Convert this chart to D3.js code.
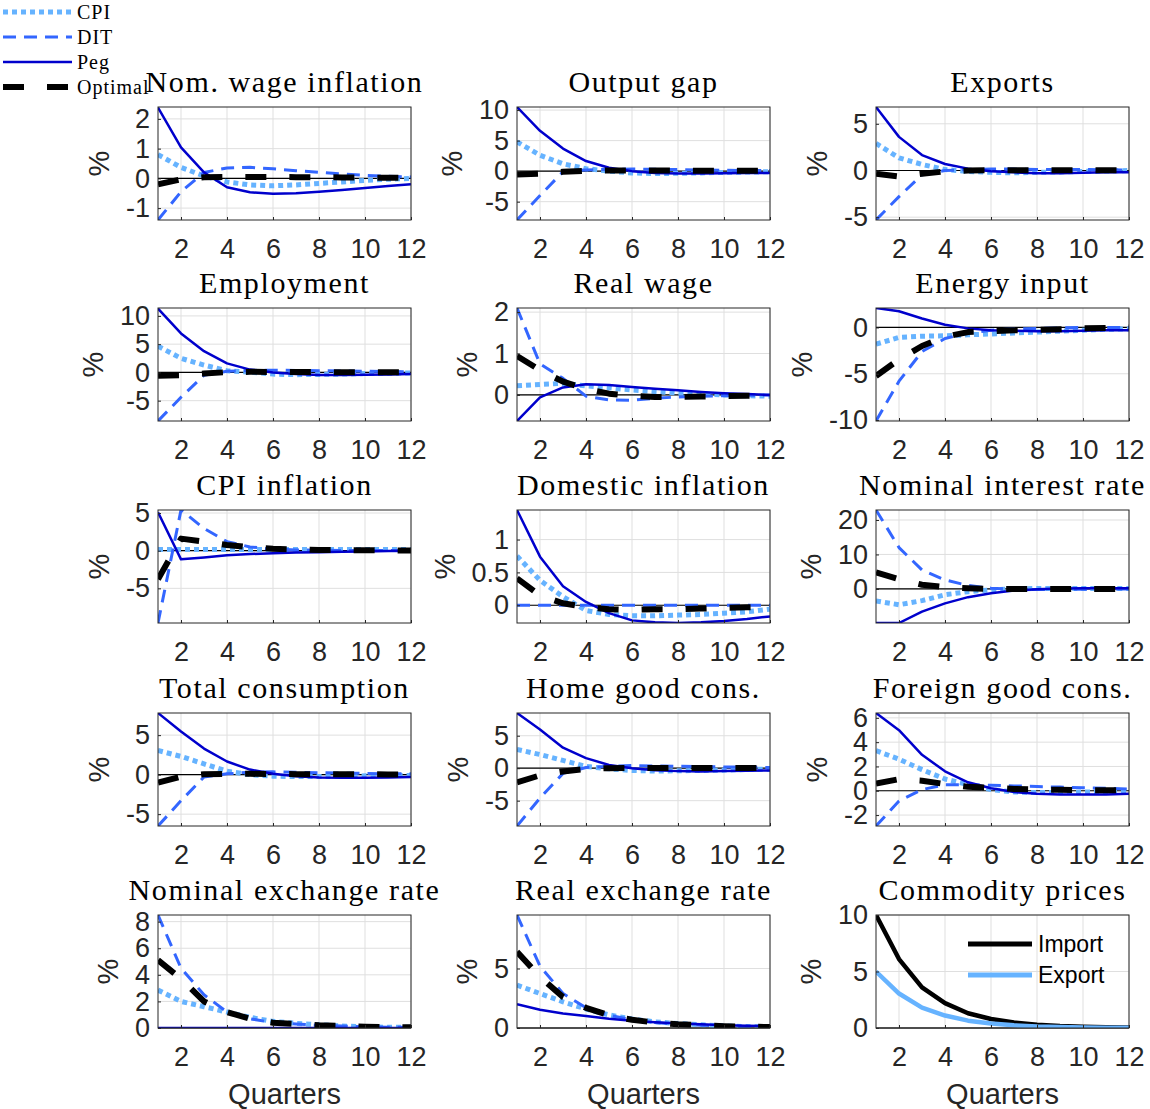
<!DOCTYPE html>
<html><head><meta charset="utf-8">
<script src="https://cdn.jsdelivr.net/npm/d3@7"></script>
<style>body{margin:0;background:#fff}</style></head>
<body>
<svg id="c" width="1150" height="1109"></svg>
<script>
// ---------------- DATA ----------------
const quarters = [1,2,3,4,5,6,7,8,9,10,11,12];
const xTicks = [2,4,6,8,10,12];
const seriesNames = ["CPI","DIT","Peg","Optimal"];
const panelTitles = ["Nom.  wage inflation","Output gap","Exports",
  "Employment","Real wage","Energy input",
  "CPI inflation","Domestic inflation","Nominal interest rate",
  "Total consumption","Home good cons.","Foreign good cons.",
  "Nominal exchange rate","Real exchange rate","Commodity prices"];
const yLimits = [[-1.4,2.4],[-8,10.5],[-5.3,6.8],
  [-8.6,11.4],[-0.63,2.1],[-10.1,2.1],
  [-9.6,5.4],[-0.27,1.45],[-9.9,22.9],
  [-6.5,7.8],[-8.9,8.5],[-2.9,6.4],
  [0,8.5],[0,9.5],[0,10]];
const yTickValues = [[-1,0,1,2],[-5,0,5,10],[-5,0,5],
  [-5,0,5,10],[0,1,2],[-10,-5,0],
  [-5,0,5],[0,0.5,1],[0,10,20],
  [-5,0,5],[-5,0,5],[-2,0,2,4,6],
  [0,2,4,6,8],[0,5],[0,5,10]];

// each panel: [CPI, DIT, Peg, Optimal]
const nomWage = [
  [0.8,0.37,0.08,-0.12,-0.22,-0.25,-0.22,-0.17,-0.12,-0.07,-0.03,0.0],
  [-1.4,-0.45,0.2,0.35,0.37,0.32,0.26,0.2,0.15,0.1,0.07,0.05],
  [2.38,1.04,0.2,-0.3,-0.47,-0.52,-0.5,-0.45,-0.39,-0.32,-0.26,-0.2],
  [-0.2,-0.03,0.04,0.05,0.05,0.05,0.04,0.04,0.03,0.03,0.02,0.02]];
const outputGap = [
  [4.8,2.6,1.2,0.4,0.0,-0.3,-0.4,-0.35,-0.3,-0.2,-0.15,-0.1],
  [-8,-4,-0.1,0.2,0.3,0.35,0.3,0.25,0.2,0.15,0.1,0.1],
  [10.5,6.6,3.7,1.65,0.55,0,-0.3,-0.4,-0.4,-0.35,-0.3,-0.3],
  [-0.55,-0.4,-0.1,0.05,0.1,0.1,0.1,0.08,0.06,0.05,0.05,0.05]];
const exportsIrf = [
  [2.9,1.35,0.65,0.1,-0.1,-0.2,-0.25,-0.2,-0.15,-0.1,-0.05,0],
  [-5.3,-2.8,-0.45,0,0.1,0.15,0.15,0.12,0.1,0.1,0.08,0.06],
  [6.8,3.6,1.65,0.7,0.2,-0.07,-0.2,-0.3,-0.3,-0.25,-0.2,-0.2],
  [-0.35,-0.65,-0.35,-0.1,0,0.03,0.04,0.04,0.04,0.03,0.03,0.02]];
const employment = [
  [4.65,2.5,1.3,0.3,0.05,-0.3,-0.4,-0.35,-0.3,-0.2,-0.15,-0.1],
  [-8.6,-4.4,-0.5,0.2,0.35,0.4,0.35,0.3,0.25,0.2,0.15,0.1],
  [11.3,6.9,3.75,1.6,0.5,0,-0.3,-0.45,-0.45,-0.4,-0.35,-0.3],
  [-0.6,-0.5,-0.2,0.05,0.1,0.08,0.06,0.05,0.05,0.04,0.03,0.03]];
const realWage = [
  [0.22,0.25,0.28,0.22,0.17,0.12,0.08,0.05,0.02,0,-0.02,-0.03],
  [2.1,0.75,0.4,-0.03,-0.12,-0.13,-0.08,-0.05,-0.03,-0.02,-0.01,0],
  [-0.63,-0.06,0.18,0.26,0.24,0.19,0.15,0.11,0.07,0.04,0.02,0],
  [0.94,0.6,0.32,0.15,0.03,-0.02,-0.05,-0.05,-0.04,-0.03,-0.02,-0.02]];
const energyInput = [
  [-1.8,-1.08,-0.95,-0.9,-0.8,-0.7,-0.6,-0.5,-0.4,-0.3,-0.2,-0.15],
  [-10.1,-5.8,-2.6,-1.2,-0.6,-0.3,-0.15,-0.1,-0.05,0,0,0],
  [2.1,1.75,0.97,0.3,-0.1,-0.3,-0.35,-0.4,-0.4,-0.35,-0.3,-0.3],
  [-5.25,-3.45,-2.0,-1.0,-0.5,-0.4,-0.3,-0.25,-0.2,-0.1,-0.05,0]];
const cpiInflation = [
  [0.15,0.15,0.15,0.15,0.15,0.15,0.15,0.15,0.15,0.15,0.15,0.15],
  [-9.6,5.4,2.95,1.2,0.5,0.2,0.1,0.05,0.03,0.02,0.01,0],
  [5.1,-1.15,-0.9,-0.6,-0.45,-0.35,-0.25,-0.2,-0.15,-0.1,-0.05,0],
  [-3.8,1.6,1.2,0.75,0.45,0.25,0.15,0.1,0.07,0.05,0.03,0.02]];
const domInflation = [
  [0.75,0.38,0.13,-0.08,-0.14,-0.16,-0.16,-0.15,-0.14,-0.12,-0.1,-0.06],
  [0,0,0,0,0,0,0,0,0,0,0,0],
  [1.45,0.74,0.29,0.05,-0.12,-0.23,-0.26,-0.27,-0.26,-0.24,-0.21,-0.17],
  [0.41,0.15,0.03,-0.03,-0.06,-0.07,-0.06,-0.06,-0.05,-0.04,-0.03,-0.02]];
const interestRate = [
  [-3.5,-4.6,-3.4,-1.7,-0.8,-0.3,0,0.1,0.15,0.15,0.1,0.1],
  [22.9,12,5.5,2.6,1.0,0.2,-0.1,-0.2,-0.2,-0.1,0,0],
  [-9.9,-9.9,-6.6,-4.2,-2.4,-1.25,-0.5,-0.1,0.1,0.2,0.2,0.2],
  [4.8,2.8,1.2,0.5,0.2,0,0,0,0,0,0,0]];
const totalCons = [
  [3.06,2.3,1.36,0.43,0,-0.2,-0.25,-0.25,-0.2,-0.15,-0.1,-0.1],
  [-6.5,-3.3,-0.3,0.1,0.3,0.35,0.3,0.25,0.2,0.15,0.1,0.1],
  [7.8,5.45,3.3,1.66,0.64,0.1,-0.2,-0.35,-0.4,-0.4,-0.35,-0.3],
  [-1.0,-0.25,0.05,0.1,0.1,0.08,0.06,0.05,0.05,0.04,0.03,0.03]];
const homeCons = [
  [2.9,2.1,1.2,0.26,-0.1,-0.35,-0.45,-0.4,-0.35,-0.3,-0.2,-0.15],
  [-8.9,-4.6,-0.8,0.1,0.3,0.4,0.35,0.3,0.25,0.2,0.15,0.1],
  [8.5,5.95,3.16,1.55,0.5,0,-0.3,-0.45,-0.5,-0.45,-0.4,-0.35],
  [-2.2,-1.1,-0.5,-0.1,0,0.05,0.05,0.05,0.05,0.04,0.03,0.03]];
const foreignCons = [
  [3.3,2.6,1.74,0.97,0.5,0.1,-0.1,-0.15,-0.15,-0.1,-0.1,-0.05],
  [-2.9,-0.85,0.1,0.5,0.5,0.45,0.4,0.35,0.3,0.25,0.2,0.15],
  [6.4,4.99,2.96,1.6,0.7,0.2,-0.1,-0.25,-0.3,-0.3,-0.3,-0.25],
  [0.6,0.95,0.83,0.55,0.33,0.25,0.15,0.1,0.08,0.05,0.05,0.05]];
const nomExchange = [
  [2.85,2.0,1.6,1.2,0.8,0.5,0.35,0.25,0.15,0.1,0.05,0.05],
  [8.5,4.5,2.5,1.2,0.7,0.4,0.3,0.2,0.15,0.1,0.05,0.05],
  [0,0,0,0,0,0,0,0,0,0,0,0],
  [5.1,3.7,2.0,1.2,0.7,0.4,0.3,0.2,0.15,0.1,0.05,0.05]];
const realExchange = [
  [3.6,2.9,2.2,1.6,1.1,0.75,0.52,0.37,0.27,0.18,0.12,0.08],
  [9.5,5.2,2.9,1.7,1.07,0.69,0.46,0.31,0.23,0.15,0.11,0.08],
  [2.0,1.53,1.22,1.0,0.77,0.61,0.49,0.38,0.31,0.23,0.18,0.15],
  [6.4,4.3,2.6,1.7,1.07,0.69,0.46,0.31,0.23,0.15,0.11,0.08]];
const commodityNames = ["Import","Export"];
const commodityImport = [10,6.1,3.6,2.2,1.3,0.8,0.48,0.29,0.17,0.1,0.06,0.04];
const commodityExport = [5,3.05,1.8,1.1,0.65,0.4,0.24,0.14,0.09,0.05,0.03,0.02];

const panelData = [nomWage,outputGap,exportsIrf,employment,realWage,energyInput,
  cpiInflation,domInflation,interestRate,totalCons,homeCons,foreignCons,
  nomExchange,realExchange,null];

// ---------------- STYLE ----------------
const colLeft = [158, 517, 876];
const rowTop = [107, 308, 510, 713, 915];
const W = 253, H = 113;
const axisColor = "#262626";
const gridColor = "#dfdfdf";
const sans = "'Liberation Sans', Arial, sans-serif";
const serif = "'Liberation Serif', 'Times New Roman', serif";
const styles = [
  {color:"#66b3ff", width:5, dash:"5,4"},
  {color:"#3366ff", width:3, dash:"13,8"},
  {color:"#0000cc", width:2.5, dash:null},
  {color:"#000000", width:6, dash:"21,23"}];
const commodityStyles = [{color:"#000000", width:4.5},{color:"#66b3ff", width:4.5}];

const svg = d3.select("#c");
const defs = svg.append("defs");

function drawPanel(i){
  const r = Math.floor(i/3), c = i%3;
  const left = colLeft[c], top = rowTop[r];
  const x = d3.scaleLinear().domain([1,12]).range([left, left+W]);
  const y = d3.scaleLinear().domain(yLimits[i]).range([top+H, top]);
  const g = svg.append("g");
  const clipId = "clip"+i;
  defs.append("clipPath").attr("id", clipId).append("rect")
    .attr("x", left).attr("y", top).attr("width", W).attr("height", H);

  // grid
  g.append("g").selectAll("line").data(xTicks).join("line")
    .attr("x1", d=>x(d)).attr("x2", d=>x(d)).attr("y1", top).attr("y2", top+H)
    .attr("stroke", gridColor).attr("stroke-width", 1);
  g.append("g").selectAll("line").data(yTickValues[i]).join("line")
    .attr("x1", left).attr("x2", left+W).attr("y1", d=>y(d)).attr("y2", d=>y(d))
    .attr("stroke", gridColor).attr("stroke-width", 1);
  // zero line
  g.append("line").attr("x1", left).attr("x2", left+W).attr("y1", y(0)).attr("y2", y(0))
    .attr("stroke", "#000").attr("stroke-width", 1.2);

  const line = d3.line().x((d,k)=>x(quarters[k])).y(d=>y(d));
  const lg = g.append("g").attr("clip-path", `url(#${clipId})`);
  if (panelData[i]) {
    panelData[i].forEach((s, k) => {
      const st = styles[k];
      lg.append("path").attr("d", line(s)).attr("fill","none")
        .attr("stroke", st.color).attr("stroke-width", st.width)
        .attr("stroke-dasharray", st.dash).attr("stroke-linejoin","round");
    });
  } else {
    [commodityImport, commodityExport].forEach((s,k)=>{
      lg.append("path").attr("d", line(s)).attr("fill","none")
        .attr("stroke", commodityStyles[k].color).attr("stroke-width", commodityStyles[k].width)
        .attr("stroke-linejoin","round");
    });
  }

  // axes with d3 axis (inward ticks)
  const xa = d3.axisBottom(x).tickValues(xTicks).tickSize(-3).tickPadding(19).tickFormat(d3.format("d"));
  const gx = g.append("g").attr("transform", `translate(0,${top+H})`).call(xa);
  const ya = d3.axisLeft(y).tickValues(yTickValues[i]).tickSize(-3).tickPadding(8)
    .tickFormat(d => String(d));
  const gy = g.append("g").attr("transform", `translate(${left},0)`).call(ya);
  [gx, gy].forEach(a => {
    a.select(".domain").remove();
    a.selectAll(".tick line").attr("stroke", axisColor);
    a.selectAll(".tick text").attr("fill", axisColor).style("font-family", sans).style("font-size", "27px");
  });
  gx.selectAll(".tick text").attr("dy", "0.71em");
  // box
  g.append("rect").attr("x", left).attr("y", top).attr("width", W).attr("height", H)
    .attr("fill","none").attr("stroke", axisColor).attr("stroke-width", 1);

  // title
  g.append("text").attr("x", left+W/2).attr("y", top-15).attr("text-anchor","middle")
    .style("font-family", serif).style("font-size","30px").style("letter-spacing","1.6px")
    .attr("fill","#000").text(panelTitles[i]);

  // ylabel
  let maxW = 0;
  gy.selectAll(".tick text").each(function(){ maxW = Math.max(maxW, this.getComputedTextLength()); });
  const lx = left - 8 - maxW - 27, ly = top + H/2;
  g.append("text").attr("transform", `translate(${lx},${ly}) rotate(-90)`)
    .attr("text-anchor","middle").attr("dy","0.35em")
    .style("font-family", sans).style("font-size","29px").attr("fill", axisColor).text("%");

  if (!panelData[i]) {
    const lgd = g.append("g");
    commodityNames.forEach((n,k)=>{
      const yy = 944 + k*31;
      lgd.append("line").attr("x1", 968).attr("x2", 1032).attr("y1", yy).attr("y2", yy)
        .attr("stroke", commodityStyles[k].color).attr("stroke-width", 5);
      lgd.append("text").attr("x", 1038).attr("y", yy).attr("dy","0.35em")
        .style("font-family", sans).style("font-size","23px").attr("fill","#000").text(n);
    });
  }
  if (r === 4) {
    g.append("text").attr("x", left+W/2).attr("y", 1094).attr("dy","0.35em").attr("text-anchor","middle")
      .style("font-family", sans).style("font-size","29px").attr("fill", axisColor).text("Quarters");
  }
}
for (let i=0;i<15;i++) drawPanel(i);

// main legend, top-left
const leg = svg.append("g");
seriesNames.forEach((n,k)=>{
  const yy = 12 + k*25;
  const st = styles[k];
  leg.append("line").attr("x1", 3).attr("x2", 72).attr("y1", yy).attr("y2", yy)
    .attr("stroke", st.color).attr("stroke-width", st.width).attr("stroke-dasharray", st.dash);
  leg.append("text").attr("x", 77).attr("y", yy).attr("dy","0.35em")
    .style("font-family", serif).style("font-size","20px").style("letter-spacing","1px")
    .attr("fill","#000").text(n);
});
</script>
</body></html>
